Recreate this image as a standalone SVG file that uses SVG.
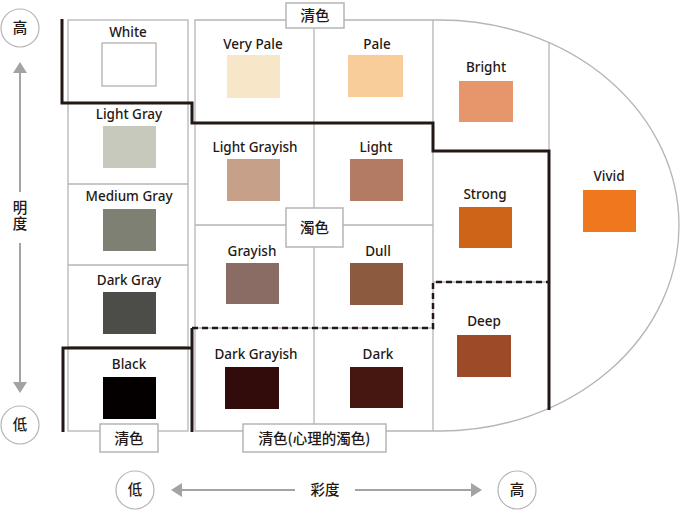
<svg xmlns="http://www.w3.org/2000/svg" width="680" height="514" viewBox="0 0 680 514">
<style>
.grid{fill:none;stroke:#b5b5b5;stroke-width:1.3}
.box{fill:#fff;stroke:#b5b5b5;stroke-width:1.5}
.thick{fill:none;stroke:#231815;stroke-width:3}
.dash{fill:none;stroke:#231815;stroke-width:2.5;stroke-dasharray:6 4}
.axis{fill:none;stroke:#a3a3a3;stroke-width:2}
.ah{fill:#a3a3a3}
.lbl{font-family:"Noto Sans","Open Sans","Liberation Sans",sans-serif;font-size:13.5px;font-weight:500;fill:#231815;text-anchor:middle}
.cjk{font-family:"Noto Sans CJK TC","Noto Sans CJK JP",sans-serif;font-size:14.5px;font-weight:500;fill:#231815;text-anchor:middle}
.vert{writing-mode:vertical-rl;letter-spacing:1px}
.circ{fill:#fff;stroke:#b5b5b5;stroke-width:1.2}
</style>
<rect width="680" height="514" fill="#fff"/>
<g id="frame">
<path class="grid" d="M195,20 H440 A239,205.5 0 0 1 440,431 H195 Z"/>
<rect class="grid" x="68" y="20" width="120" height="411"/>
<path class="grid" d="M68,103 H188 M68,184 H188 M68,265 H188 M68,347 H188"/>
<path class="grid" d="M314,20 V431 M433,20 V431 M549,42 V410 M195,123 H433 M195,225 H433 M195,328 H433 M433,151 H549 M433,282 H549"/>
</g>
<g id="connectors">
<path class="thick" d="M62,19 V103 H192 V123 H433 V151 H549 V410"/>
<path class="thick" d="M63,432 V348 H192 M192,328 V432"/>
<path class="dash" d="M192,328 H433 V282 H549"/>
<path class="axis" d="M20,72 V192 M20,243 V383"/>
<path class="ah" d="M20,62 L27,73 L13,73 Z M20,393 L27,382 L13,382 Z"/>
<path class="axis" d="M180,490 H295 M355,490 H472"/>
<path class="ah" d="M171,490 L182,483 L182,497 Z M482,490 L471,483 L471,497 Z"/>
</g>
<g id="white"><text class="lbl" x="128" y="37">White</text><rect x="102" y="43" width="54" height="43" fill="#fff" stroke="#aaa" stroke-width="1.2"/></g>
<g id="light-gray"><text class="lbl" x="129" y="118.5">Light Gray</text><rect x="103" y="126" width="53" height="42" fill="#c8c9bd"/></g>
<g id="medium-gray"><text class="lbl" x="129" y="201">Medium Gray</text><rect x="103" y="209" width="53" height="42" fill="#7e8073"/></g>
<g id="dark-gray"><text class="lbl" x="129" y="284.5">Dark Gray</text><rect x="103" y="292" width="53" height="42" fill="#4c4d49"/></g>
<g id="black"><text class="lbl" x="129" y="368.5">Black</text><rect x="103" y="377" width="53" height="42" fill="#040000"/></g>
<g id="very-pale"><text class="lbl" x="253" y="48.5">Very Pale</text><rect x="227" y="55" width="53" height="43" fill="#f8e6c9"/></g>
<g id="pale"><text class="lbl" x="377" y="48.5">Pale</text><rect x="348" y="55" width="55" height="42" fill="#f9cd9a"/></g>
<g id="light-grayish"><text class="lbl" x="255" y="151.5">Light Grayish</text><rect x="227" y="159" width="53" height="42" fill="#c6a088"/></g>
<g id="light"><text class="lbl" x="376" y="152">Light</text><rect x="350" y="159" width="53" height="42" fill="#b37a64"/></g>
<g id="grayish"><text class="lbl" x="252" y="256">Grayish</text><rect x="226" y="263" width="53" height="41" fill="#8a6c65"/></g>
<g id="dull"><text class="lbl" x="378" y="256">Dull</text><rect x="350" y="263" width="53" height="42" fill="#8c5a3e"/></g>
<g id="dark-grayish"><text class="lbl" x="256" y="359">Dark Grayish</text><rect x="225" y="367" width="54" height="42" fill="#320b0b"/></g>
<g id="dark"><text class="lbl" x="378" y="359">Dark</text><rect x="350" y="367" width="53" height="41" fill="#461611"/></g>
<g id="bright"><text class="lbl" x="486" y="72">Bright</text><rect x="459" y="81" width="54" height="41" fill="#e6966a"/></g>
<g id="strong"><text class="lbl" x="485" y="198.5">Strong</text><rect x="459" y="207" width="53" height="41" fill="#cd6418"/></g>
<g id="deep"><text class="lbl" x="484" y="326">Deep</text><rect x="457" y="335" width="54" height="42" fill="#9c4a27"/></g>
<g id="vivid"><text class="lbl" x="609" y="181">Vivid</text><rect x="583" y="190" width="53" height="42" fill="#ef781f"/></g>
<g id="label-seishoku-top"><rect class="box" x="286" y="3" width="58" height="25"/><text class="cjk" x="315" y="21">清色</text></g>
<g id="label-dakushoku"><rect class="box" x="286" y="208" width="57" height="39"/><text class="cjk" x="314.5" y="232.5">濁色</text></g>
<g id="label-seishoku-bottom"><rect class="box" x="100" y="424" width="58" height="28"/><text class="cjk" x="129" y="443.5">清色</text></g>
<g id="label-shinri"><rect class="box" x="243" y="424" width="143" height="28"/><text class="cjk" x="314.5" y="443.5">清色(心理的濁色)</text></g>
<g id="axis-v-high"><circle class="circ" cx="20" cy="28" r="19"/><text class="cjk" x="20" y="33">高</text></g>
<g id="axis-v-low"><circle class="circ" cx="20" cy="425" r="19"/><text class="cjk" x="20" y="430">低</text></g>
<g id="axis-v-label"><text class="cjk vert" x="20" y="216">明度</text></g>
<g id="axis-h-low"><circle class="circ" cx="135" cy="490" r="19"/><text class="cjk" x="135" y="495">低</text></g>
<g id="axis-h-high"><circle class="circ" cx="517" cy="490" r="19"/><text class="cjk" x="517" y="495">高</text></g>
<g id="axis-h-label"><text class="cjk" x="325" y="495">彩度</text></g>
</svg>
